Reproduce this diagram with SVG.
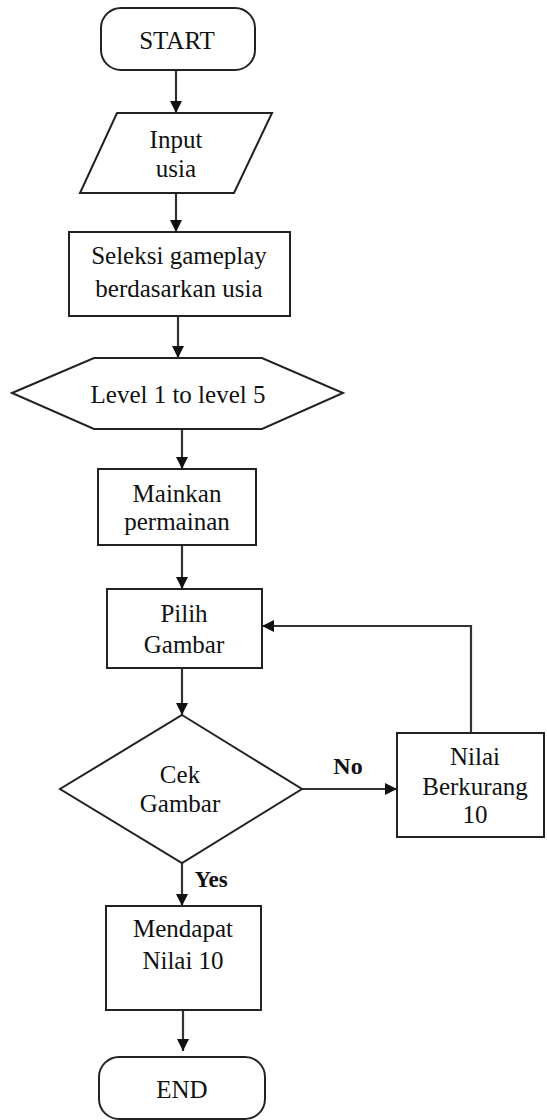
<svg xmlns="http://www.w3.org/2000/svg" width="547" height="1120" viewBox="0 0 547 1120">
<style>
.shape{fill:#fff;stroke:#222;stroke-width:2}
.conn{fill:none;stroke:#333;stroke-width:2.2}
text{font-family:"Liberation Serif","Times New Roman",serif;font-size:25px;fill:#111;text-anchor:middle}
.lbl{font-weight:bold;font-size:23px}
</style>
<defs>
<marker id="arr" viewBox="0 0 12 12" refX="12" refY="6" markerWidth="12" markerHeight="12" markerUnits="userSpaceOnUse" orient="auto">
<path d="M0,0 L12,6 L0,12 z" fill="#111"/>
</marker>
</defs>
<rect width="547" height="1120" fill="#fff"/>
<g id="connectors">
<path class="conn" d="M176 70 V113" marker-end="url(#arr)"/>
<path class="conn" d="M176 193 V232" marker-end="url(#arr)"/>
<path class="conn" d="M178 316 V358" marker-end="url(#arr)"/>
<path class="conn" d="M182 429 V469" marker-end="url(#arr)"/>
<path class="conn" d="M182 545 V589" marker-end="url(#arr)"/>
<path class="conn" d="M182 668 V715" marker-end="url(#arr)"/>
<path class="conn" d="M182 863 V906" marker-end="url(#arr)"/>
<path class="conn" d="M183 1010 V1051" marker-end="url(#arr)"/>
<path class="conn" d="M302 789 H397" marker-end="url(#arr)"/>
<path class="conn" d="M471 733 V626 H262" marker-end="url(#arr)"/>
<text class="lbl" x="211" y="887">Yes</text>
<text class="lbl" x="348" y="774" style="font-size:24px">No</text>
</g>
<g id="start">
<rect class="shape" x="101" y="8" width="154" height="62" rx="20"/>
<text x="177" y="49">START</text>
</g>
<g id="input">
<polygon class="shape" points="117,113 272,113 234,193 80,193"/>
<text x="176" y="148">Input</text>
<text x="176" y="177">usia</text>
</g>
<g id="seleksi">
<rect class="shape" x="69" y="232" width="221" height="84"/>
<text x="179" y="264">Seleksi gameplay</text>
<text x="179" y="297">berdasarkan usia</text>
</g>
<g id="level">
<polygon class="shape" points="12,393 94,358 262,358 343,393 262,429 94,429"/>
<text x="178" y="403">Level 1 to level 5</text>
</g>
<g id="mainkan">
<rect class="shape" x="98" y="469" width="158" height="76"/>
<text x="177" y="502">Mainkan</text>
<text x="177" y="530">permainan</text>
</g>
<g id="pilih">
<rect class="shape" x="107" y="589" width="155" height="79"/>
<text x="184" y="622">Pilih</text>
<text x="184" y="653">Gambar</text>
</g>
<g id="cek">
<polygon class="shape" points="182,715 302,789 182,863 60,789"/>
<text x="180" y="783">Cek</text>
<text x="180" y="812">Gambar</text>
</g>
<g id="nilai-berkurang">
<rect class="shape" x="397" y="733" width="147" height="104"/>
<text x="475" y="765">Nilai</text>
<text x="475" y="795">Berkurang</text>
<text x="475" y="823">10</text>
</g>
<g id="mendapat">
<rect class="shape" x="106" y="906" width="155" height="104"/>
<text x="183" y="937">Mendapat</text>
<text x="183" y="969">Nilai 10</text>
</g>
<g id="end">
<rect class="shape" x="99" y="1057" width="166" height="62" rx="20"/>
<text x="182" y="1098">END</text>
</g>
</svg>
